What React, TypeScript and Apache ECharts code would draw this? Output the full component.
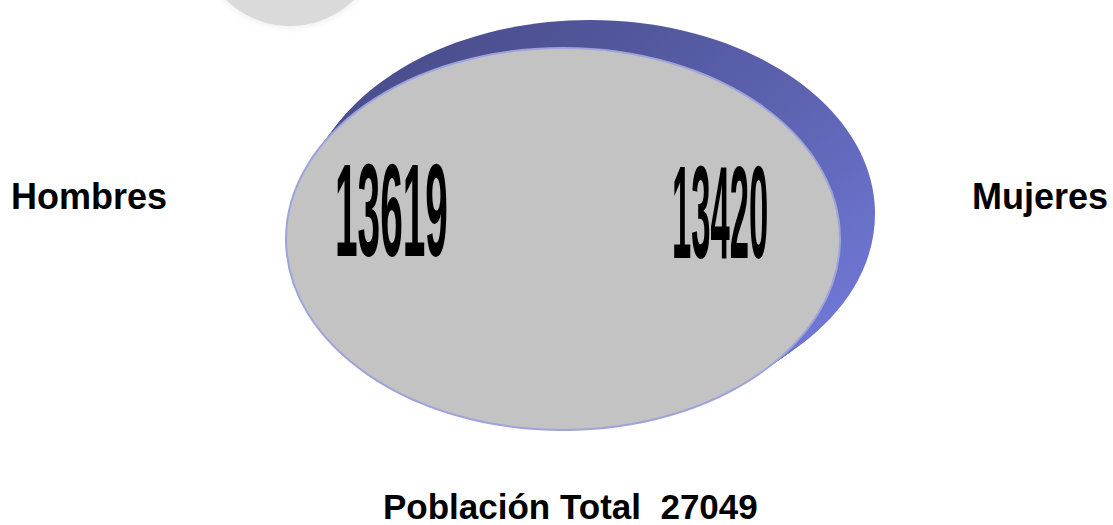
import React, { useEffect, useRef } from "react";
import * as echarts from "echarts";

const categories = ["Hombres", "Mujeres"];
const values = [13619, 13420];
const totalLabel = "Población Total";
const totalValue = 27049;

export default function App() {
  const ref = useRef<HTMLDivElement>(null);
  useEffect(() => {
    document.body.style.margin = "0";
    const chart = echarts.init(ref.current!, null, { renderer: "svg" });
    const font = '"Liberation Sans", Arial, sans-serif';

    // grey ellipse geometry and extrusion target
    const g = { cx: 563, cy: 239, rx: 277, ry: 191 };
    const b = { cx: 590, cy: 214, rx: 285, ry: 194 };
    const steps = 14;
    const sweep: any[] = [];
    for (let i = steps; i >= 1; i--) {
      const t = i / steps;
      sweep.push({
        type: "ellipse",
        shape: {
          cx: g.cx + (b.cx - g.cx) * t,
          cy: g.cy + (b.cy - g.cy) * t,
          rx: g.rx + (b.rx - g.rx) * t,
          ry: g.ry + (b.ry - g.ry) * t,
        },
        style: {
          fill: new echarts.graphic.LinearGradient(0.2, 0, 1, 0.75, [
            { offset: 0, color: "#494d8c" },
            { offset: 0.5, color: "#5a60ab" },
            { offset: 1, color: "#7078d6" },
          ]),
          lineWidth: 0,
        },
        silent: true,
      });
    }

    const numberPos = [
      { x: 335, y: 211, sx: 0.31 },
      { x: 672, y: 212, sx: 0.264 },
    ];
    const labelPos = [
      { x: 11, y: 196.5 },
      { x: 972, y: 196.5 },
    ];

    const elements: any[] = [
      {
        type: "circle",
        shape: { cx: 290, cy: -65, r: 91 },
        style: { fill: "#dadada", shadowBlur: 8, shadowColor: "#e6e6e6" },
        silent: true,
      },
      ...sweep,
      {
        type: "ellipse",
        shape: { cx: g.cx, cy: g.cy, rx: g.rx, ry: g.ry },
        style: { fill: "#c3c3c3", stroke: "#9ea3da", lineWidth: 2 },
        silent: true,
      },
    ];

    values.forEach((v, i) => {
      elements.push({
        type: "text",
        x: numberPos[i].x,
        y: numberPos[i].y,
        scaleX: numberPos[i].sx,
        style: {
          text: String(v),
          x: 0,
          y: 0,
          fill: "#000",
          font: `bold 131px ${font}`,
          textAlign: "left",
          textVerticalAlign: "middle",
          align: "left",
          verticalAlign: "middle",
        },
      });
    });

    categories.forEach((c, i) => {
      elements.push({
        type: "text",
        x: labelPos[i].x,
        y: labelPos[i].y,
        style: {
          text: c,
          fill: "#000",
          font: `bold 36px ${font}`,
          textAlign: "left",
          textVerticalAlign: "middle",
          align: "left",
          verticalAlign: "middle",
        },
      });
    });

    elements.push({
      type: "text",
      x: 383,
      y: 506.5,
      style: {
        text: `${totalLabel}  ${totalValue}`,
        fill: "#000",
        font: `bold 35px ${font}`,
        lineHeight: 35,
        textAlign: "left",
        textVerticalAlign: "middle",
        align: "left",
        verticalAlign: "middle",
      },
    });

    chart.setOption({
      animation: false,
      backgroundColor: "#ffffff",
      graphic: { elements },
    });
    return () => chart.dispose();
  }, []);
  return <div ref={ref} style={{ width: 1113, height: 525 }} />;
}
